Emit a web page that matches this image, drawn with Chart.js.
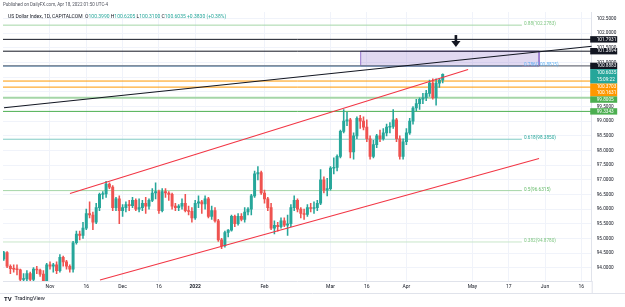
<!DOCTYPE html>
<html>
<head>
<meta charset="utf-8">
<script src="https://cdn.jsdelivr.net/npm/chart.js@4.4.1/dist/chart.umd.min.js"></script>
<style>
  html,body{margin:0;padding:0;background:#fff;}
  #wrap{position:relative;width:625px;height:307px;}
</style>
</head>
<body>
<div id="wrap"><canvas id="chart"></canvas></div>
<script>
// --- daily candles, US Dollar Index (CAPITALCOM), x = bar index ---
const days = [
  "2021-10-12","2021-10-13","2021-10-14","2021-10-15","2021-10-18","2021-10-19","2021-10-20","2021-10-21","2021-10-22",
  "2021-10-25","2021-10-26","2021-10-27","2021-10-28","2021-10-29",
  "2021-11-01","2021-11-02","2021-11-03","2021-11-04","2021-11-05","2021-11-08","2021-11-09","2021-11-10","2021-11-11","2021-11-12",
  "2021-11-15","2021-11-16","2021-11-17","2021-11-18","2021-11-19","2021-11-22","2021-11-23","2021-11-24","2021-11-25","2021-11-26",
  "2021-11-29","2021-11-30",
  "2021-12-01","2021-12-02","2021-12-03","2021-12-06","2021-12-07","2021-12-08","2021-12-09","2021-12-10","2021-12-13","2021-12-14",
  "2021-12-15","2021-12-16","2021-12-17","2021-12-20","2021-12-21","2021-12-22","2021-12-23","2021-12-27","2021-12-28","2021-12-29",
  "2021-12-30","2021-12-31",
  "2022-01-03","2022-01-04","2022-01-05","2022-01-06","2022-01-07","2022-01-10","2022-01-11","2022-01-12","2022-01-13","2022-01-14",
  "2022-01-17","2022-01-18","2022-01-19","2022-01-20","2022-01-21","2022-01-24","2022-01-25","2022-01-26","2022-01-27","2022-01-28",
  "2022-01-31",
  "2022-02-01","2022-02-02","2022-02-03","2022-02-04","2022-02-07","2022-02-08","2022-02-09","2022-02-10","2022-02-11","2022-02-14",
  "2022-02-15","2022-02-16","2022-02-17","2022-02-18","2022-02-21","2022-02-22","2022-02-23","2022-02-24","2022-02-25","2022-02-28",
  "2022-03-01","2022-03-02","2022-03-03","2022-03-04","2022-03-07","2022-03-08","2022-03-09","2022-03-10","2022-03-11","2022-03-14",
  "2022-03-15","2022-03-16","2022-03-17","2022-03-18","2022-03-21","2022-03-22","2022-03-23","2022-03-24","2022-03-25","2022-03-28",
  "2022-03-29","2022-03-30","2022-03-31",
  "2022-04-01","2022-04-04","2022-04-05","2022-04-06","2022-04-07","2022-04-08","2022-04-11","2022-04-12","2022-04-13","2022-04-14",
  "2022-04-15","2022-04-18"
];
const opens = [
  94.30,94.52,94.05,93.97,93.95,93.93,93.60,93.62,93.80,93.60,93.95,93.92,93.78,93.35,
  94.10,94.05,94.10,93.90,94.35,94.20,94.05,93.95,94.85,95.15,95.10,95.35,95.85,95.80,95.55,96.05,96.50,96.52,96.85,96.75,96.05,96.35,
  95.95,96.05,96.15,96.12,96.30,96.00,96.05,96.20,96.10,96.30,96.55,96.60,95.95,96.60,96.55,96.50,96.10,96.05,96.10,96.20,95.95,95.92,
  95.70,96.20,96.25,96.18,96.35,95.75,95.95,95.60,94.95,94.75,95.20,95.28,95.75,95.50,95.75,95.65,95.90,96.00,96.45,97.20,97.25,
  96.55,96.35,96.05,95.35,95.45,95.40,95.60,95.45,95.50,96.05,96.30,96.00,95.85,95.82,96.05,96.02,96.05,96.20,97.00,96.65,
  96.70,97.40,97.42,97.80,98.65,99.00,99.05,97.95,98.50,99.10,99.00,98.80,98.40,97.80,98.20,98.50,98.40,98.60,98.80,98.82,99.05,98.40,97.80,
  98.30,98.60,99.00,99.45,99.60,99.75,99.80,99.95,100.30,99.80,100.30,100.399
];
const highs = [
  94.56,94.55,94.10,94.10,94.10,93.95,93.80,93.90,93.85,94.00,94.05,93.95,93.90,94.15,
  94.20,94.15,94.20,94.45,94.40,94.25,94.10,94.90,95.25,95.25,95.55,96.00,96.25,95.90,96.20,96.55,96.60,96.95,96.90,96.80,96.40,96.45,
  96.15,96.25,96.30,96.40,96.35,96.35,96.30,96.40,96.35,96.70,96.90,96.65,96.70,96.70,96.60,96.55,96.20,96.15,96.35,96.50,96.10,96.05,
  96.30,96.45,96.30,96.45,96.40,96.10,96.05,95.65,95.00,95.25,95.30,95.80,95.80,95.85,95.85,96.05,96.05,96.50,97.30,97.45,97.30,
  96.65,96.40,96.20,95.60,95.55,95.70,95.70,95.80,96.15,96.45,96.35,96.05,96.00,96.15,96.20,96.25,96.30,97.35,97.10,97.05,
  97.45,97.75,97.85,98.70,99.40,99.30,99.10,98.60,99.15,99.20,99.15,99.05,98.50,98.35,98.55,98.70,98.75,98.90,98.95,99.40,99.10,98.50,98.40,
  98.75,99.10,99.50,99.75,99.80,99.95,100.05,100.40,100.45,100.45,100.45,100.6205
];
const lows = [
  94.25,94.00,93.80,93.85,93.75,93.50,93.50,93.55,93.50,93.55,93.80,93.70,93.28,93.30,
  93.95,93.85,93.80,93.85,94.05,93.95,93.85,93.85,94.80,94.95,95.00,95.30,95.70,95.30,95.50,95.95,96.35,96.40,96.70,95.95,95.95,95.50,
  95.75,95.90,95.95,96.05,95.95,95.90,95.95,95.85,96.00,96.25,96.35,95.85,95.90,96.40,96.30,96.00,95.95,95.95,96.00,95.90,95.80,95.55,
  95.65,96.05,95.85,96.00,95.70,95.65,95.55,94.90,94.65,94.70,95.05,95.25,95.40,95.45,95.60,95.55,95.80,95.80,96.40,97.00,96.50,
  96.20,95.95,95.30,95.15,95.25,95.35,95.40,95.10,95.40,95.95,95.90,95.70,95.65,95.75,95.90,95.85,95.95,96.15,96.55,96.45,
  96.65,97.20,97.30,97.75,98.60,98.85,97.75,97.70,98.40,98.75,98.70,98.30,97.70,97.75,98.10,98.30,98.35,98.50,98.60,98.75,98.30,97.70,97.70,
  98.20,98.55,98.90,99.35,99.40,99.60,99.70,99.85,99.75,99.55,100.15,100.31
];
const closes = [
  94.52,94.05,93.97,93.95,93.93,93.60,93.62,93.80,93.60,93.95,93.92,93.78,93.35,94.10,
  94.05,94.10,93.90,94.35,94.20,94.05,93.95,94.85,95.15,95.10,95.35,95.85,95.80,95.55,96.05,96.50,96.52,96.85,96.75,96.05,96.35,95.95,
  96.05,96.15,96.12,96.30,96.00,96.05,96.20,96.10,96.30,96.55,96.60,95.95,96.60,96.55,96.50,96.10,96.05,96.10,96.20,95.95,95.92,95.70,
  96.20,96.25,96.18,96.35,95.75,95.95,95.60,94.95,94.75,95.20,95.28,95.75,95.50,95.75,95.65,95.90,96.00,96.45,97.20,97.25,96.55,
  96.35,96.05,95.35,95.45,95.40,95.60,95.45,95.50,96.05,96.30,96.00,95.85,95.82,96.05,96.02,96.05,96.20,97.00,96.65,96.70,
  97.40,97.42,97.80,98.65,99.00,99.05,97.95,98.50,99.10,99.00,98.80,98.40,97.80,98.20,98.50,98.40,98.60,98.80,98.82,99.05,98.40,97.80,98.30,
  98.60,99.00,99.45,99.60,99.75,99.80,99.95,100.30,99.80,100.30,100.40,100.6035
];

// axis ticks
const xTickPos  = [14, 25, 36, 47, 58, 79, 99, 110, 122, 142, 153, 164, 175];
const xTickText = ["Nov","16","Dec","16","2022","Feb","Mar","16","Apr","May","17","Jun","16"];
const yTicks = [94,94.5,95,95.5,96,96.5,97,97.5,98,98.5,99,99.5,100,100.5,101,101.5,102,102.5];

// horizontal levels drawn across the pane
const levelPrices = [101.7931, 101.3894, 100.8883, 100.3703, 100.1631, 99.8005, 99.3343];
const levelColors = ["#131722","#131722","#6f727d","#ff9800","#ff9800","#a5d6a7","#4caf50"];
const levelWidths = [1, 1, 1.4, 1, 1, 2.2, 1];

// fibonacci retracement
const fibRatios = ["0.88","0.786","0.618","0.5","0.382"];
const fibPrices = [102.2783, 100.8815, 98.3850, 96.6315, 94.8780];
const fibColors = ["#a5d6a7","#64b5f6","#80cbc4","#a5d6a7","#c8e6c9"];
const fibText   = ["#81c784","#64b5f6","#26a69a","#66bb6a","#81c784"];
const fibSpan = [-1, 157];

// trend lines [x0, x1] / [p0, p1]
const trendX = [0.06, 178.2],  trendP = [99.46, 101.56];
const upperX = [20.06, 140.7], upperP = [96.53, 100.765];
const lowerX = [29.15, 162.2], lowerP = [93.58, 97.73];

// target zone and arrow
const zoneX = [108.15, 162.2], zoneP = [100.8815, 101.3894];
const arrowX = 137, arrowP = [101.94, 101.53];

// price scale tags
const tagPrices = [101.7931, 101.3894, 100.8883, 100.6035, 100.3703, 100.1631, 99.8005, 99.3343];
const tagTexts  = [["101.7931"],["101.3894"],["100.8883"],["100.6035","15:09:22"],["100.3703"],["100.1631"],["99.8005"],["99.3343"]];
const tagColors = ["#131722","#131722","#131722","#26a69a","#ff9800","#ff9800","#4caf50","#4caf50"];

const UP = "#26a69a", DOWN = "#ef5350";
const FONT = "Roboto, 'Liberation Sans', sans-serif";

const candleColors = opens.map((o,i)=> closes[i] >= o ? UP : DOWN);
const wickData = days.map((d,i)=>({x:i, y:[lows[i], highs[i]]}));
const bodyData = days.map((d,i)=>({x:i, y:[opens[i], closes[i]]}));

function seg(xs, ps){ return [{x:xs[0], y:ps[0]}, {x:xs[1], y:ps[1]}]; }

const datasets = [];
datasets.push({
  type:"line", data:[
    {x:zoneX[0],y:zoneP[0]},{x:zoneX[0],y:zoneP[1]},{x:zoneX[1],y:zoneP[1]},{x:zoneX[1],y:zoneP[0]},{x:zoneX[0],y:zoneP[0]}
  ],
  borderColor:"#9575cd", borderWidth:1, backgroundColor:"rgba(149,117,205,0.28)", fill:"shape",
  pointRadius:0, order:9
});
fibPrices.forEach((p,i)=>{
  datasets.push({type:"line", data:seg(fibSpan,[p,p]), borderColor:fibColors[i], borderWidth:1, pointRadius:0, fill:false, order:8});
});
levelPrices.forEach((p,i)=>{
  datasets.push({type:"line", data:seg([-1,180],[p,p]), borderColor:levelColors[i], borderWidth:levelWidths[i], pointRadius:0, fill:false, order:7});
});
datasets.push({type:"line", data:seg(trendX,trendP), borderColor:"#131722", borderWidth:1.1, pointRadius:0, fill:false, order:6});
datasets.push({type:"bar", data:wickData, backgroundColor:candleColors, barThickness:0.9, grouped:false, borderWidth:0, order:5});
datasets.push({type:"bar", data:bodyData, backgroundColor:candleColors, barThickness:2.3, grouped:false, borderWidth:0, minBarLength:0.8, order:4});
datasets.push({type:"line", data:seg(upperX,upperP), borderColor:"#f23645", borderWidth:1.1, pointRadius:0, fill:false, order:3});
datasets.push({type:"line", data:seg(lowerX,lowerP), borderColor:"#f23645", borderWidth:1.1, pointRadius:0, fill:false, order:3});

// --- overlay: header, fib labels, arrow, price tags ---
const overlay = {
  id:"overlay",
  afterDatasetsDraw(chart){
    const {ctx, scales:{x, y}} = chart;
    const ax = x.getPixelForValue(arrowX);
    const top = y.getPixelForValue(arrowP[0]), tip = y.getPixelForValue(arrowP[1]);
    const head = (tip-top)*0.5;
    ctx.save();
    ctx.fillStyle = "#131722";
    ctx.fillRect(ax-1.3, top, 2.6, tip-top-head+0.5);
    ctx.beginPath();
    ctx.moveTo(ax-4.6, tip-head); ctx.lineTo(ax+4.6, tip-head); ctx.lineTo(ax, tip); ctx.closePath();
    ctx.fill();
    // fib labels
    ctx.font = "4.7px " + FONT;
    ctx.textBaseline = "middle";
    const lx = x.getPixelForValue(fibSpan[1]) + 2;
    fibPrices.forEach((p,i)=>{
      ctx.fillStyle = fibText[i];
      ctx.fillText(fibRatios[i] + "(" + p.toFixed(4) + ")", lx, y.getPixelForValue(p) - 1);
    });
    ctx.restore();
  },
  afterDraw(chart){
    const {ctx, scales:{y}, chartArea:a} = chart;
    ctx.save();
    // pane frame lines
    ctx.strokeStyle = "#e0e3eb"; ctx.lineWidth = 1;
    ctx.beginPath();
    ctx.moveTo(a.right+0.5, a.bottom); ctx.lineTo(a.right+0.5, a.bottom+12);
    ctx.moveTo(0, a.bottom+12.5); ctx.lineTo(chart.width, a.bottom+12.5);
    ctx.stroke();

    // header
    ctx.textBaseline = "middle";
    ctx.font = "4.5px " + FONT;
    ctx.fillStyle = "#50535e";
    ctx.fillText("Published on DailyFX.com, Apr 18, 2022 01:50 UTC-4", 3, 5);
    const parts = [
      ["US Dollar Index, 1D, CAPITALCOM  ","#131722"],["O","#131722"],["100.3990 ",UP],["H","#131722"],["100.6205 ",UP],
      ["L","#131722"],["100.3100 ",UP],["C","#131722"],["100.6035 ",UP],["+0.3830 (+0.38%)",UP]
    ];
    ctx.font = "5px " + FONT;
    let hx = 8;
    parts.forEach(([t,c])=>{ ctx.fillStyle = c; ctx.fillText(t, hx, 17); hx += ctx.measureText(t).width; });

    // price tags on the scale
    ctx.font = "4.7px " + FONT;
    let prevBottom = -1e9;
    tagPrices.forEach((p,i)=>{
      const h = tagTexts[i].length === 2 ? 14.5 : 6.4;
      let t = y.getPixelForValue(p) - (tagTexts[i].length === 2 ? 7.3 : h/2);
      if (t < prevBottom) t = prevBottom;
      prevBottom = t + h;
      ctx.fillStyle = tagColors[i];
      ctx.fillRect(a.right - 1.5, t, 27, h);
      ctx.fillStyle = "#fff";
      tagTexts[i].forEach((s,k)=> ctx.fillText(s, a.right + 5, t + 3.3 + k*7.6));
    });

    // logo
    ctx.fillStyle = "#131722";
    ctx.font = "bold 6px " + FONT;
    ctx.fillText("TV", 4, 299);
    ctx.font = "5.5px " + FONT;
    ctx.fillText("TradingView", 14.5, 299);
    ctx.restore();
  }
};

new Chart(document.getElementById("chart"), {
  type:"bar",
  data:{datasets},
  plugins:[overlay],
  options:{
    responsive:true, maintainAspectRatio:false, animation:false, devicePixelRatio:1,
    events:[],
    layout:{padding:{left:3, top:12, right:0, bottom:14}},
    plugins:{legend:{display:false}, tooltip:{enabled:false}},
    scales:{
      x:{
        type:"linear", min:-0.24, max:178.15, offset:false,
        afterFit(s){ s.height = 12; },
        afterBuildTicks(s){ s.ticks = xTickPos.map(v=>({value:v})); },
        ticks:{
          autoSkip:false, maxRotation:0, padding:3, color:"#131722",
          callback:(v,i)=>xTickText[i],
          font:c=>({family:FONT, size:5, weight: c.tick && c.tick.label === "2022" ? "bold" : "normal"})
        },
        grid:{color:"#f0f3fa", drawTicks:false, offset:false},
        border:{color:"#e0e3eb"}
      },
      y:{
        type:"linear", position:"right", min:93.546, max:102.727,
        afterFit(s){ s.width = 33.3; },
        afterBuildTicks(s){ s.ticks = yTicks.map(v=>({value:v})); },
        ticks:{padding:5, color:"#131722", font:{family:FONT, size:4.7}, callback:v=>v.toFixed(4)},
        grid:{color:"#f0f3fa", drawTicks:false},
        border:{color:"#e0e3eb"}
      }
    }
  }
});
</script>
</body>
</html>
